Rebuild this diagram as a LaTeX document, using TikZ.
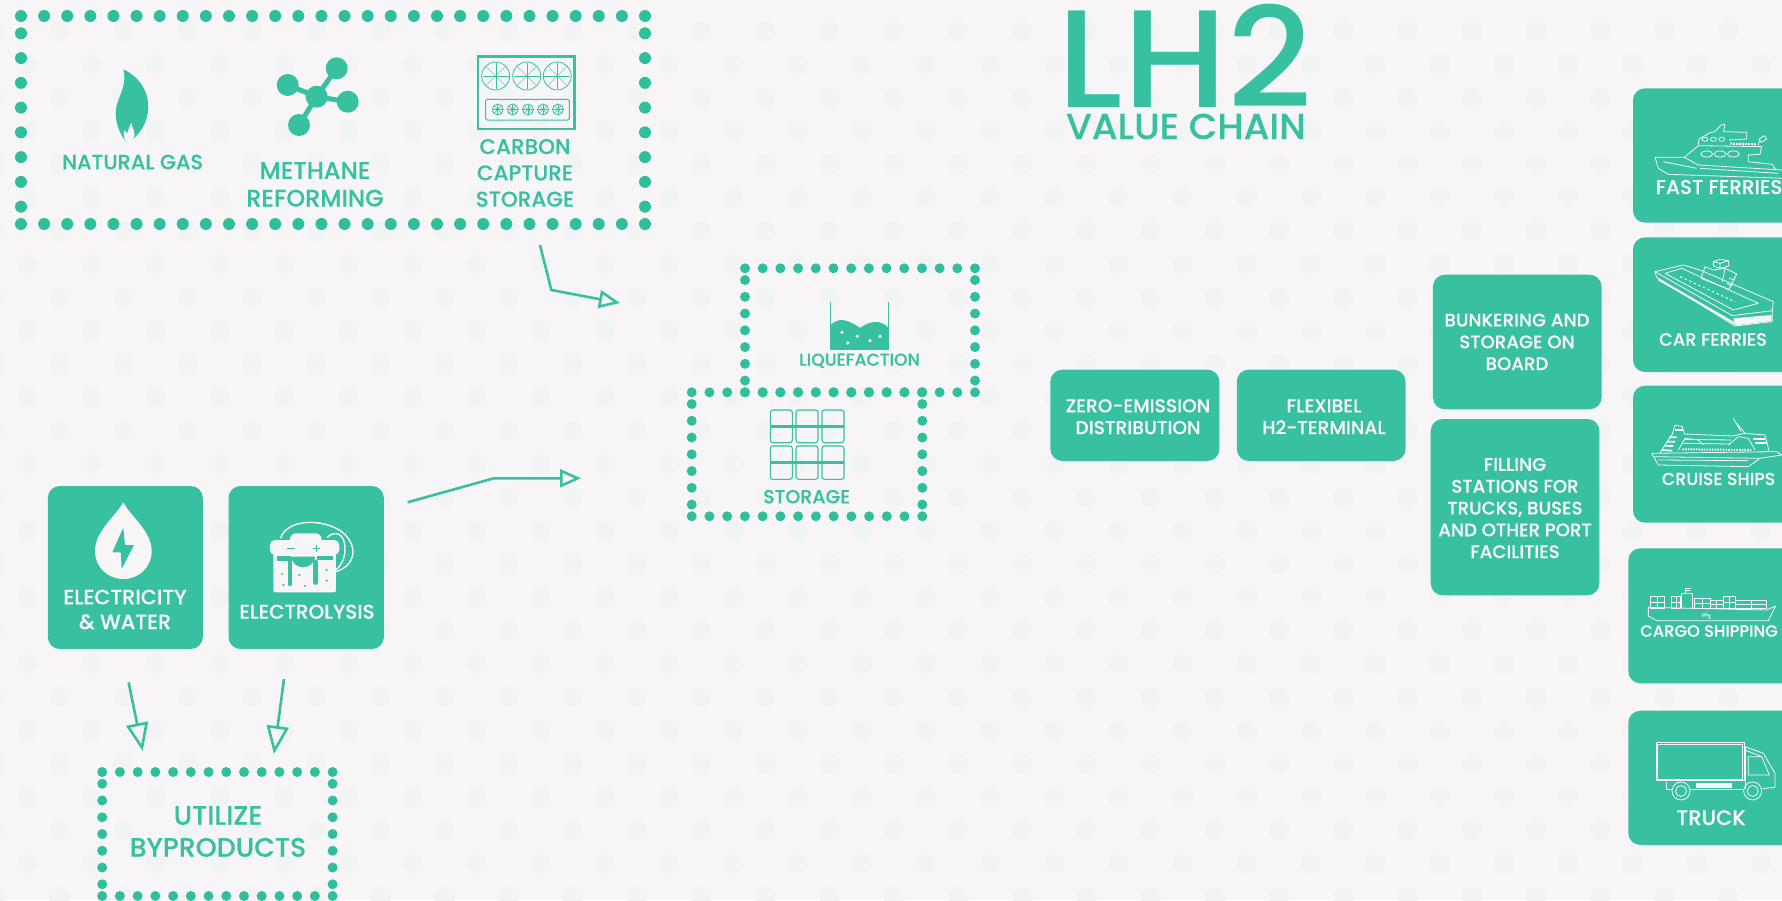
\documentclass[tikz,border=0pt]{standalone}
\usepackage{fontspec}
\setmainfont{Poppins}[UprightFont=* Medium,UprightFeatures={FakeBold=0.2}]
\newfontfamily\titlefont{Poppins Medium}
\usetikzlibrary{arrows.meta}
\definecolor{bgc}{HTML}{F7F5F6}
\definecolor{spot}{HTML}{F2F4F3}
\definecolor{teal}{HTML}{37C1A1}
\definecolor{dotc}{HTML}{30BF9C}
\tikzset{
 cardbox/.style={fill=teal,rounded corners=12pt,inner sep=0pt,outer sep=0pt},
 txt/.style 2 args={font=\fontsize{#1}{#2}\selectfont,align=center,inner sep=0pt,outer sep=0pt},
 tealtxt/.style={text=teal},
 whitetxt/.style={text=bgc},
 conn/.style={draw=teal,line width=2.6pt,line join=miter,-{Triangle[open,length=21pt,width=18pt,line width=2.6pt]}},
 connbig/.style={draw=teal,line width=2.6pt,line join=miter,-{Triangle[open,length=28pt,width=22pt,line width=2.6pt]}},
 shipline/.style={draw=bgc,line width=.8pt,line join=round},
 fanline/.style={draw=teal,line width=.6pt}
}
\newcommand{\dotbox}[7]{%
 \foreach \i in {0,...,#5}{\pgfmathsetmacro\xx{#1+(#3-#1)/#5*\i}
  \fill[dotc] (\xx,#2) circle (#7pt); \fill[dotc] (\xx,#4) circle (#7pt);}
 \foreach \j in {0,...,#6}{\pgfmathsetmacro\yy{#2+(#4-#2)/(#6+1.4)*(\j+.7)}
  \fill[dotc] (#1,\yy) circle (#7pt); \fill[dotc] (#3,\yy) circle (#7pt);}
}
\newcommand{\cardat}[5]{%
 \pgfmathsetmacro\cw{#4-#2}\pgfmathsetmacro\ch{#5-#3}\pgfmathsetmacro\cx{(#2+#4)/2}\pgfmathsetmacro\cy{(#3+#5)/2}
 \node[cardbox,minimum width=\cw pt,minimum height=\ch pt] (#1) at (\cx,\cy) {};}
\begin{document}
\begin{tikzpicture}[x=1pt,y=-1pt]
\useasboundingbox (0,0) rectangle (1782,900);
\clip (0,0) rectangle (1782,900);
\fill[bgc] (0,0) rectangle (1782,900);
% background spots
\foreach \r in {0,...,26}{
 \pgfmathsetmacro\ry{31.1+33.3*\r}
 \pgfmathsetmacro\ox{(mod(\r,2)==0)?-4.8:27.3}
 \foreach \c in {0,...,28}{
  \pgfmathsetmacro\rx{\ox+64.2*\c}
  \fill[spot] (\rx,\ry) circle (10pt);}}
% dotted frames
\dotbox{21}{16}{645}{224}{27}{7}{6}
\dotbox{745}{268.3}{975}{392.3}{13}{6}{5}
\dotbox{691.7}{392.3}{922.3}{516.3}{13}{6}{5}
\dotbox{102.2}{772}{332.6}{896}{13}{6}{5}
% cards
\cardat{elec}{47.8}{486}{202.8}{649}
\cardat{lysis}{228.5}{486}{383.9}{649}
\cardat{zero}{1050.4}{369.6}{1219.4}{461}
\cardat{flex}{1236.8}{369.6}{1405.5}{461}
\cardat{bunk}{1432.9}{274.7}{1601.6}{409.3}
\cardat{fill}{1430.7}{419}{1599.4}{595.3}
\cardat{fast}{1633}{88.3}{1810}{222.7}
\cardat{car}{1633}{237.3}{1810}{372}
\cardat{cruise}{1633}{385.7}{1810}{522.7}
\cardat{cargo}{1628.3}{548.3}{1810}{683.3}
\cardat{truck}{1628.3}{710.7}{1810}{845}
% title
\node[txt={139}{145},tealtxt,anchor=base,xscale=1.06,transform shape,text depth=0pt] (lh) at (1185,107) {\titlefont LH2};
\node[txt={36}{40},tealtxt,anchor=base,text depth=0pt,xscale=1.03,transform shape] (vc) at (1186,139) {VALUE CHAIN};
% teal labels
\node[txt={20.8}{24},tealtxt,anchor=base] (ng) at (132.6,169.3) {NATURAL GAS};
\node[txt={24}{27.7},tealtxt] (mr) at (315,184.4) {METHANE\\REFORMING};
\node[txt={21.5}{26.3},tealtxt] (ccs) at (525,172.9) {CARBON\\CAPTURE\\STORAGE};
\node[txt={26.8}{32},tealtxt] (ub) at (218,831.5) {UTILIZE\\BYPRODUCTS};
\node[txt={17.2}{20},tealtxt,anchor=base] (lq) at (859.5,365.7) {LIQUEFACTION};
\node[txt={19}{22},tealtxt,anchor=base] (st) at (806.7,503.3) {STORAGE};
% white labels
\node[txt={20.8}{24.7},whitetxt] (elect) at (125,609.5) {ELECTRICITY\\\& WATER};
\node[txt={20}{23},whitetxt,anchor=base] (lyst) at (307,618.7) {ELECTROLYSIS};
\node[txt={18.7}{21.8},whitetxt] (zerot) at (1138,416.7) {ZERO-EMISSION\\DISTRIBUTION};
\node[txt={18.7}{21.8},whitetxt] (flext) at (1324,416.7) {FLEXIBEL\\H2-TERMINAL};
\node[txt={18.2}{21.8},whitetxt] (bunkt) at (1517,341.9) {BUNKERING AND\\STORAGE ON\\BOARD};
\node[txt={18.2}{21.8},whitetxt] (fillt) at (1515,508.1) {FILLING\\STATIONS FOR\\TRUCKS, BUSES\\AND OTHER PORT\\FACILITIES};
\node[txt={20}{24},whitetxt,anchor=base west] (fastt) at (1655.7,194) {FAST FERRIES};
\node[txt={17.8}{22},whitetxt,anchor=base] (cart) at (1713,345.7) {CAR FERRIES};
\node[txt={17.4}{22},whitetxt,anchor=base] (cruiset) at (1718.5,485) {CRUISE SHIPS};
\node[txt={16.3}{22},whitetxt,anchor=base] (cargot) at (1709,636.7) {CARGO SHIPPING};
\node[txt={21}{24},whitetxt,anchor=base] (truckt) at (1711,825) {TRUCK};
% connectors
\coordinate (a1s) at (540,245); \coordinate (a1b) at (551.3,290); \coordinate (a1e) at (620,303);
\coordinate (a2s) at (407.6,502.3); \coordinate (a2b) at (493.7,478.3); \coordinate (a2e) at (581,478.3);
\coordinate (a3s) at (128.6,682.3); \coordinate (a3e) at (142.7,751);
\coordinate (a4s) at (284,679); \coordinate (a4e) at (274,754);
\draw[conn] (a1s) -- (a1b) -- (a1e);
\draw[conn] (a2s) -- (a2b) -- (a2e);
\draw[connbig] (a3s) -- (a3e);
\draw[connbig] (a4s) -- (a4e);
% flame
\fill[teal] (123.3,69.3) .. controls (140,77) and (148.5,92) .. (148.3,107) .. controls (148,124) and (138,137) .. (127,143) .. controls (122,137) and (115.5,126) .. (115.7,113) .. controls (115.8,98) and (128,88) .. (123.3,69.3) -- cycle;
\fill[bgc] (127.5,143.5) .. controls (124,139) and (123,135) .. (124.5,130) .. controls (125.5,132) and (126.5,133) .. (127.5,133) .. controls (128,130) and (129.5,126) .. (131.5,123) .. controls (132,128) and (135,131) .. (134.5,135) .. controls (134,139) and (131,141) .. (127.5,143.5) -- cycle;
% molecule
\foreach \mx/\my in {336.7/68.3,287.7/85,347.7/101.7,299/125}{
 \draw[teal,line width=5pt] (316.7,96.7) -- (\mx,\my);
 \fill[teal] (\mx,\my) circle (11pt);}
\fill[teal] (316.7,96.7) circle (11pt);
% carbon capture icon
\draw[teal,line width=2.4pt] (478,56.5) rectangle (574.5,129);
\draw[teal,line width=1pt,rounded corners=1.5pt] (485.7,99.3) rectangle (569.3,120);
\foreach \fx in {495.7,526.7,557.3}{
 \draw[fanline,line width=.8pt] (\fx,76) circle (14pt);
 \foreach \an in {0,45,...,315}{\draw[fanline,line width=.35pt] (\fx,76) -- ++(\an:13pt);}}
\foreach \fx in {497.7,512.7,528,543,558}{
 \draw[fanline,line width=.8pt] (\fx,109.5) circle (5.5pt);
 \foreach \an in {0,45,...,315}{\draw[fanline,line width=.5pt] (\fx,109.5) -- ++(\an:5pt);}}
% liquefaction icon
\fill[teal] (830.5,325) .. controls (838,318) and (846,318) .. (860,328) .. controls (868,322) and (880,318) .. (888.5,328) -- (888.5,349) -- (830.5,349) -- cycle;
\draw[teal,line width=1.5pt] (830.5,302.3) -- (830.5,349) -- (888.5,349) -- (888.5,302.3);
\foreach \lx/\ly in {842/332.3,857.3/336.3,847.7/343,870/340.7,880/336.3}{\fill[bgc] (\lx,\ly) circle (1.8pt);}
% storage icon
\foreach \sx in {770.3,796,822}{
 \draw[teal,line width=1.1pt,rounded corners=2.5pt] (\sx,410) rectangle ++(22,32.7);
 \draw[teal,line width=1.1pt,rounded corners=2.5pt] (\sx,446) rectangle ++(22,33.3);}
\draw[teal,line width=3.4pt] (770.3,426.3) -- (844,426.3);
\draw[teal,line width=3.4pt] (770.3,462.7) -- (844,462.7);
% drop icon
\fill[bgc] (123.3,502.3) .. controls (130,516) and (151.7,531) .. (151.7,551) .. controls (151.7,567) and (139,579) .. (123.3,579) .. controls (107.6,579) and (95,567) .. (95,551) .. controls (95,531) and (116,516) .. (123.3,502.3) -- cycle;
\fill[teal,rounded corners=.6pt] (123.3,527.7) -- (112.3,552.3) -- (120.7,552.3) -- (121.7,569) -- (134,545) -- (125,545) -- cycle;
% electrolysis icon
\begin{scope}[shift={(70,490)},x=.3333pt,y=-.3333pt]
\fill[bgc,rounded corners=2pt] (610,185) rectangle (798,307);
\fill[bgc,rounded corners=5pt] (600,150) rectangle (808,195);
\fill[bgc,rounded corners=6pt] (660,130) rectangle (755,170);
\fill[teal] (622,197) rectangle (662,212);
\fill[teal] (740,197) rectangle (790,210);
\fill[teal] (665,200) -- (735,200) .. controls (735,222) and (712,232) .. (700,232) .. controls (685,232) and (665,222) .. (665,200) -- cycle;
\draw[teal,line width=4.5pt,line cap=round] (660,205) -- (660,282);
\draw[teal,line width=4.5pt,line cap=round] (737,215) -- (737,278);
\foreach \dx/\dy in {636/252,688/255,640/285,705/288,770/240,770/272}{\fill[teal] (\dx,\dy) circle (1.2pt);}
\draw[teal,line width=1.2pt] (652,175) -- (674,175);
\draw[teal,line width=1.2pt] (730,175) -- (750,175) (740,165) -- (740,185);
\draw[bgc,line width=1.4pt] (632,145) .. controls (650,85) and (760,85) .. (815,125) .. controls (865,165) and (860,225) .. (798,245);
\draw[bgc,line width=1.4pt] (772,142) .. controls (795,120) and (825,130) .. (825,175) .. controls (825,205) and (815,225) .. (798,240);
\end{scope}
% fast ferry
\begin{scope}[shift={(1645,115)},x=.3333pt,y=-.3333pt]
\draw[shipline] (30,127) -- (118,127) -- (160,92) -- (162,72) -- (195,53) -- (210,50) -- (228,30) -- (240,28) -- (235,50) -- (305,52) -- (305,72) -- (252,75);
\draw[shipline] (160,92) -- (350,95) -- (345,118) -- (310,120) -- (310,140) -- (382,148) -- (392,165);
\draw[shipline] (118,127) -- (160,150) -- (412,165) (30,127) -- (40,160) -- (70,178) -- (420,190) (55,140) -- (155,160) (165,160) -- (400,175);
\draw[shipline,line width=2pt,dash pattern=on 2pt off 1pt] (255,86) -- (335,88);
\draw[shipline] (340,90) -- (345,70) (342,72) -- (358,62) -- (365,72) -- (348,82) -- cycle;
\foreach \wx in {180,205,230}{\draw[shipline] (\wx,73) ellipse (3pt and 2pt);}
\foreach \wx in {185,225,265}{\draw[shipline] (\wx,117) ellipse (6pt and 3pt);}
\end{scope}
% car ferry
\begin{scope}[shift={(1645,250)},x=.3333pt,y=-.3333pt]
\draw[shipline] (30,65) -- (115,45) -- (170,62) -- (385,155) -- (382,182) -- (262,197) -- cycle;
\draw[shipline] (60,70) -- (110,55) -- (340,160) -- (265,180) -- cycle;
\draw[shipline] (30,65) -- (35,82) -- (270,228) -- (382,215) -- (382,182);
\draw[shipline,line width=2pt] (40,88) -- (272,222);
\fill[bgc] (265,205) -- (380,195) -- (380,213) -- (272,226) -- cycle;
\draw[shipline] (168,85) -- (180,50) -- (205,60) -- (240,55) -- (275,72) -- (252,118) -- (168,85);
\draw[shipline] (240,55) -- (232,95) (252,85) -- (270,90) (245,100) -- (262,108);
\draw[shipline] (205,35) -- (225,28) -- (250,32) -- (252,48) -- (225,55) -- (205,48) -- cycle (205,35) -- (225,40) -- (250,32) (225,40) -- (225,55);
\draw[shipline,dash pattern=on 2.5pt off 2.5pt,line width=1pt] (105,80) -- (270,155);
\end{scope}
% cruise ship
\begin{scope}[shift={(1645,410)},x=.3333pt,y=-.3333pt]
\draw[shipline] (20,130) -- (40,165) -- (310,170) -- (345,145) -- (410,135) -- (395,125) -- (20,130);
\draw[shipline] (40,150) -- (310,152) (345,145) -- (25,140);
\draw[shipline] (45,128) -- (82,72) -- (90,45) -- (112,50) -- (118,72) -- (262,78) -- (298,70) -- (360,75) -- (372,122);
\draw[shipline] (100,120) -- (120,85) -- (160,90) -- (175,105) (250,105) -- (280,80) -- (310,85) -- (330,120);
\draw[shipline] (120,88) -- (260,90) (115,100) -- (255,102);
\draw[shipline] (265,25) -- (288,65) (275,40) -- (300,70);
\draw[shipline,line width=2pt,dash pattern=on 1.5pt off 1.2pt] (112,118) -- (320,120);
\draw[shipline,line width=1.8pt] (50,120) -- (82,122) (58,107) -- (85,108) (65,95) -- (90,95) (72,82) -- (95,82);
\draw[shipline,line width=1.8pt] (90,60) -- (115,60) (330,100) -- (365,100) (325,88) -- (360,88);
\end{scope}
% cargo ship
\begin{scope}[shift={(1620,530)},x=.3333pt,y=-.3333pt]
\draw[shipline] (85,232) -- (85,258) -- (110,272) -- (445,272) -- (467,228) -- (440,240) -- (85,232) -- cycle;
\draw[shipline] (185,235) -- (185,190) -- (217,190) -- (217,235);
\draw[shipline] (195,190) -- (195,175) -- (213,175) (197,182) -- (210,182);
\foreach \bx/\bxx/\by in {92/134/198,155/182/198,222/270/205,270/310/210,310/345/200,345/440/210}{
 \draw[shipline,line width=.6pt] (\bx,\by) rectangle (\bxx,235);
 \draw[shipline,line width=.6pt] (\bx,{(\by+235)/2}) -- (\bxx,{(\by+235)/2});
 \pgfmathsetmacro\bm{(\bx+\bxx)/2}
 \draw[shipline,line width=.6pt] (\bm,\by) -- (\bm,235);}
\node[font=\fontsize{5}{6}\selectfont,text=bgc,inner sep=0pt] (lh2s) at (260,257) {LH\textsubscript{2}};
\end{scope}
% truck
\begin{scope}[shift={(1620,530)},x=.3333pt,y=-.3333pt]
\draw[shipline] (108,638) rectangle (372,752);
\draw[shipline] (113,643) rectangle (367,747);
\draw[shipline] (375,650) -- (430,670) -- (465,730) -- (465,772) -- (428,776);
\draw[shipline] (375,660) -- (425,680) (385,680) -- (425,680) -- (448,735) -- (385,735) -- cycle;
\draw[shipline] (375,650) -- (375,778);
\draw[shipline] (140,755) -- (140,778) -- (158,778) (208,778) -- (372,778);
\draw[shipline] (183,783) circle (9pt) (183,783) circle (5.5pt);
\draw[shipline] (398,783) circle (9pt) (398,783) circle (5.5pt);
\fill[bgc] (228,760) rectangle (335,775);
\end{scope}
\end{tikzpicture}
\end{document}
